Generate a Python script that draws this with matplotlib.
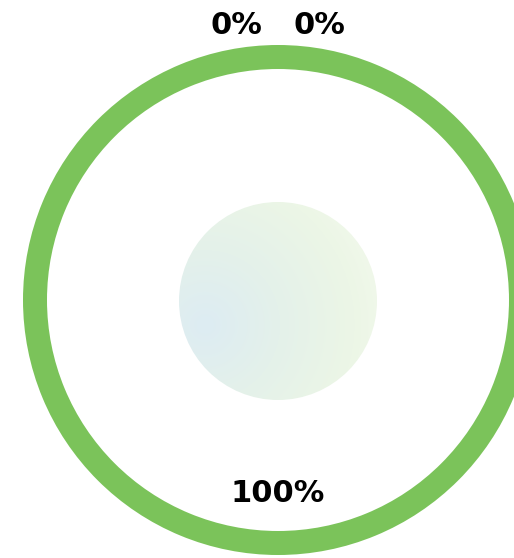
import numpy as np
import matplotlib
matplotlib.use("Agg")
import matplotlib.pyplot as plt
from matplotlib.patches import Circle
from matplotlib.colors import LinearSegmentedColormap

# slices of the ring and their labels
slice_values = [100, 0, 0]
slice_colors = ["#7bc35a", "#7bc35a", "#7bc35a"]

W, H = 514, 558
fig = plt.figure(figsize=(W / 100, H / 100), dpi=100)
ax = fig.add_axes([0, 0, 1, 1])

cx, cy = 278, H - 300
outer_r = 255
ring_w = 24

ax.pie(slice_values, colors=slice_colors, radius=outer_r, center=(cx, cy),
       startangle=-90, counterclock=False, frame=True,
       wedgeprops=dict(width=ring_w, linewidth=0))
ax.set_xlim(0, W)
ax.set_ylim(0, H)
ax.set_aspect("equal")
ax.axis("off")

# soft gradient disc in the middle
inner_r = 99
icx, icy = 278, H - 301
n = 300
xs = np.linspace(icx - inner_r, icx + inner_r, n)
ys = np.linspace(icy - inner_r, icy + inner_r, n)
gx, gy = np.meshgrid(xs, ys)
fx, fy = 205, H - 325
t = np.clip(np.hypot(gx - fx, gy - fy) / 225, 0, 1)
cmap = LinearSegmentedColormap.from_list(
    "soft", ["#ddecf3", "#e4f1ea", "#ecf6e6", "#f7fbf1"])
img = ax.imshow(t, cmap=cmap, vmin=0, vmax=1, origin="lower",
                extent=(xs[0], xs[-1], ys[0], ys[-1]), interpolation="bilinear")
disc = Circle((icx, icy), inner_r, transform=ax.transData)
img.set_clip_path(disc)

total = sum(slice_values)
pcts = [f"{v / total * 100:.0f}%" for v in slice_values]
font = dict(fontsize=22, fontweight="bold", family="DejaVu Sans",
            color="#000000", ha="center", va="center")
ax.text(cx, H - 494, pcts[0], **font)
ax.text(cx - 42, H - 26, pcts[1], **font)
ax.text(cx + 41, H - 26, pcts[2], **font)

fig.savefig("out.png", dpi=100)
